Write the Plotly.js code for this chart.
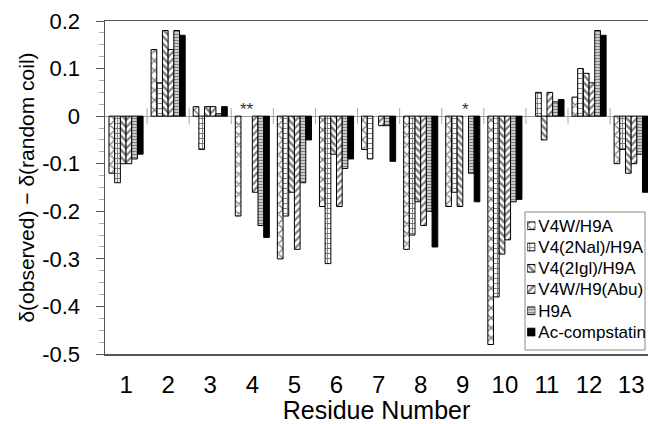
<!DOCTYPE html>
<html>
<head>
<meta charset="utf-8">
<script src="https://cdn.plot.ly/plotly-3.0.1.min.js"></script>
<style>html,body{margin:0;padding:0;background:#fff;}#chart{width:648px;height:424px;}</style>
</head>
<body>
<div id="chart"></div>
<script>
var residues = [1,2,3,4,5,6,7,8,9,10,11,12,13];
var seriesNames = ["V4W/H9A", "V4(2Nal)/H9A", "V4(2Igl)/H9A", "V4W/H9(Abu)", "H9A", "Ac-compstatin"];
var v4wH9a   = [-0.12, 0.14, 0.02, -0.21, -0.30, -0.19, -0.07, -0.28, -0.19, -0.48, null, 0.04, -0.10];
var v42nalH9a = [-0.14, 0.07, -0.07, null, -0.21, -0.31, -0.09, -0.25, -0.16, -0.38, 0.05, 0.10, -0.07];
var v42iglH9a = [-0.10, 0.18, 0.02, null, -0.16, -0.08, null, -0.18, -0.19, -0.29, -0.05, 0.09, -0.12];
var v4wH9abu = [-0.10, 0.14, 0.02, -0.16, -0.28, -0.19, -0.02, -0.23, null, -0.26, 0.05, 0.07, -0.10];
var h9a      = [-0.09, 0.18, 0.005, -0.23, -0.14, -0.11, -0.02, -0.20, -0.12, -0.18, 0.03, 0.18, -0.08];
var acComp   = [-0.08, 0.17, 0.02, -0.255, -0.05, -0.09, -0.095, -0.275, -0.18, -0.175, 0.035, 0.17, -0.16];
var yTickVals = [0.2, 0.1, 0, -0.1, -0.2, -0.3, -0.4, -0.5];
var yTickText = ["0.2", "0.1", "0", "-0.1", "-0.2", "-0.3", "-0.4", "-0.5"];
// missing-value markers: residue, series indices (0-based), text
var missingMarks = [{res: 4, series: [1, 2], text: "**"}, {res: 9, series: [3], text: "*"}];

var allValues = [v4wH9a, v42nalH9a, v42iglH9a, v4wH9abu, h9a, acComp];
var patterns = [
  {shape: "x", size: 7, solidity: 0.35},
  {shape: "+", size: 5, solidity: 0.4},
  {shape: "\\", size: 5, solidity: 0.5},
  {shape: "/", size: 5, solidity: 0.45},
  {shape: "-", size: 3, solidity: 0.6},
  null
];
var FONT = "Arial, 'Liberation Sans', sans-serif";
var bargap = 0.19;

function markerFor(i) {
  var m = {color: "#ffffff", line: {color: "#000000", width: 1}};
  if (patterns[i]) {
    m.pattern = {shape: patterns[i].shape, size: patterns[i].size, solidity: patterns[i].solidity,
                 fgcolor: "#000000", bgcolor: "#ffffff", fillmode: "overlay"};
  } else {
    m.color = "#000000";
  }
  return m;
}

var traces = seriesNames.map(function (name, i) {
  return {type: "bar", name: name, x: residues, y: allValues[i], marker: markerFor(i),
          showlegend: false, xaxis: "x", yaxis: "y"};
});

// legend swatches drawn as tiny bars in a small subplot; labels are its tick labels
seriesNames.forEach(function (name, i) {
  traces.push({type: "bar", orientation: "h", x: [1], y: [name], base: 0, width: 0.36,
               offsetgroup: "legend", marker: markerFor(i), showlegend: false,
               xaxis: "x2", yaxis: "y2"});
});

var shapes = [];
for (var k = 1; k < residues.length; k++) {
  shapes.push({type: "line", xref: "x", yref: "y", x0: residues[k - 1] + 0.5, x1: residues[k - 1] + 0.5,
               y0: -0.017, y1: 0.017, line: {color: "#aaaaaa", width: 1}, layer: "below"});
}
// legend frame
shapes.push({type: "rect", xref: "paper", yref: "paper", x0: 0.7735, x1: 0.9945, y0: 0.012, y1: 0.4264,
             line: {color: "#888888", width: 1}, fillcolor: "#ffffff", layer: "below"});

var slot = (1 - bargap) / seriesNames.length;
var annotations = missingMarks.map(function (mk) {
  var mean = mk.series.reduce(function (a, b) { return a + b; }, 0) / mk.series.length;
  return {x: mk.res + (mean - (seriesNames.length - 1) / 2) * slot, y: 0, xref: "x", yref: "y",
          text: mk.text, showarrow: false, yanchor: "bottom", yshift: -5,
          font: {family: FONT, size: 17, color: "#333"}};
});

var layout = {
  width: 648, height: 424,
  margin: {l: 105, r: 0, t: 21, b: 70},
  paper_bgcolor: "#ffffff", plot_bgcolor: "rgba(0,0,0,0)",
  barmode: "group", bargap: bargap, bargroupgap: 0,
  showlegend: false,
  xaxis: {range: [0.5, 13.4], tickvals: residues, ticktext: residues.map(String),
          showgrid: false, zeroline: false, ticks: "", ticklabelstandoff: 9, automargin: false,
          showline: true, linecolor: "#555555", linewidth: 1.5, mirror: true,
          tickfont: {family: FONT, size: 24, color: "#000"},
          title: {text: "Residue Number", font: {family: FONT, size: 25, color: "#000"}, standoff: 2}},
  yaxis: {range: [-0.5, 0.2], tickvals: yTickVals, ticktext: yTickText, automargin: false,
          showgrid: false, zeroline: true, zerolinecolor: "#999999", zerolinewidth: 1,
          ticks: "outside", ticklen: 8, tickcolor: "#555555", ticklabelstandoff: 11,
          minor: {dtick: 0.025, ticks: "outside", ticklen: 5, tickcolor: "#aaaaaa", showgrid: false},
          showline: true, linecolor: "#555555", linewidth: 1.5, mirror: true,
          tickfont: {family: FONT, size: 22, color: "#000"},
          title: {text: "δ(observed) − δ(random coil)", font: {family: FONT, size: 21, color: "#000"}, standoff: 2}},
  xaxis2: {domain: [0.7775, 0.7925], anchor: "y2", range: [0, 1], visible: false, fixedrange: true},
  yaxis2: {domain: [0.034, 0.417], anchor: "x2", side: "right", type: "category",
           categoryorder: "array", categoryarray: seriesNames, autorange: "reversed",
           showline: false, showgrid: false, zeroline: false, ticks: "", ticklabelstandoff: 2,
           automargin: false, tickfont: {family: FONT, size: 17, color: "#000"}},
  shapes: shapes,
  annotations: annotations
};

Plotly.newPlot("chart", traces, layout, {displayModeBar: false, staticPlot: true});
</script>
</body>
</html>
